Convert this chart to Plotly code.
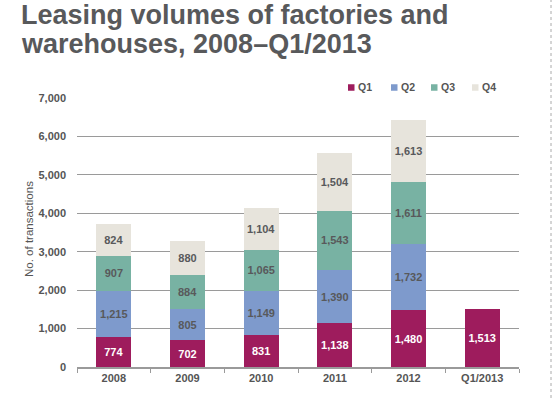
import plotly.graph_objects as go

# ---- data ----
categories = ["2008", "2009", "2010", "2011", "2012", "Q1/2013"]
q1 = [774, 702, 831, 1138, 1480, 1513]
q2 = [1215, 805, 1149, 1390, 1732, None]
q3 = [907, 884, 1065, 1543, 1611, None]
q4 = [824, 880, 1104, 1504, 1613, None]
series_names = ["Q1", "Q2", "Q3", "Q4"]
series_values = [q1, q2, q3, q4]
y_tick_vals = [0, 1000, 2000, 3000, 4000, 5000, 6000, 7000]
y_tick_text = ["0", "1,000", "2,000", "3,000", "4,000", "5,000", "6,000", "7,000"]
title_lines = ["Leasing volumes of factories and", "warehouses, 2008\u2013Q1/2013"]
y_title = "No. of transactions"

# ---- styles ----
colors = ["#9e1c5d", "#7e9acc", "#78b2a3", "#e7e4dc"]
text_colors = ["#ffffff", "#58595b", "#58595b", "#58595b"]
FONT = "Liberation Sans"
GREY = "#58595b"

W, H = 553, 398
PLOT_L, PLOT_R, PLOT_T, PLOT_B = 77, 519, 98, 367   # window pixel coords
L, T = PLOT_L, PLOT_T
R, B = W - PLOT_R, H - PLOT_B
PW, PH = W - L - R, H - T - B


def px_x(x):
    return (x - L) / PW


def px_y(y):
    return (H - B - y) / PH


fig = go.Figure()
for name, vals, col, tcol in zip(series_names, series_values, colors, text_colors):
    fig.add_trace(go.Bar(
        x=categories, y=vals, name=name,
        marker=dict(color=col, line=dict(width=0)),
        texttemplate="%{y:,}", textposition="inside",
        insidetextanchor="middle", textangle=0, constraintext="none",
        textfont=dict(family=FONT, size=11, color=tcol, weight="bold"),
        showlegend=False, hoverinfo="skip",
    ))

annotations = []
# title lines
annotations.append(dict(text=title_lines[0], xref="paper", yref="paper",
                        x=px_x(20), y=px_y(31.5), xanchor="left", yanchor="bottom",
                        showarrow=False, borderpad=0,
                        font=dict(family=FONT, size=27, color=GREY, weight="bold")))
annotations.append(dict(text=title_lines[1], xref="paper", yref="paper",
                        x=px_x(20), y=px_y(60.5), xanchor="left", yanchor="bottom",
                        showarrow=False, borderpad=0,
                        font=dict(family=FONT, size=27, color=GREY, weight="bold")))
# y title
annotations.append(dict(text=y_title, xref="paper", yref="paper",
                        x=px_x(29), y=px_y(229), xanchor="center", yanchor="middle",
                        textangle=-90, showarrow=False,
                        font=dict(family=FONT, size=11.5, color="#555555")))

# manual legend
shapes = []
leg_x = [348, 391, 431, 472]
leg_y = 87.5
for name, col, lx in zip(series_names, colors, leg_x):
    shapes.append(dict(type="rect", xref="paper", yref="paper",
                       x0=px_x(lx), x1=px_x(lx + 6.5),
                       y0=px_y(leg_y + 3.25), y1=px_y(leg_y - 3.25),
                       fillcolor=col, line=dict(width=0)))
    annotations.append(dict(text=name, xref="paper", yref="paper",
                            x=px_x(lx + 7.5), y=px_y(leg_y), xanchor="left",
                            yanchor="middle", showarrow=False,
                            font=dict(family=FONT, size=10.5, color="#555555",
                                      weight="bold")))

# dotted page border at right
shapes.append(dict(type="line", xref="paper", yref="paper",
                   x0=px_x(551), x1=px_x(551), y0=px_y(398), y1=px_y(0),
                   line=dict(color="#aaaaaa", width=1, dash="dot")))

fig.update_layout(
    width=W, height=H,
    margin=dict(l=L, r=R, t=T, b=B, pad=0),
    barmode="stack", bargap=0.525,
    plot_bgcolor="white", paper_bgcolor="white",
    font=dict(family=FONT, color="#555555"),
    annotations=annotations, shapes=shapes,
    xaxis=dict(type="category", showline=True, linecolor="#9a9a9a", linewidth=1.5,
               ticks="outside", tickson="boundaries", ticklen=4,
               tickcolor="#9a9a9a", tickwidth=1, showgrid=False,
               tickfont=dict(family=FONT, size=11, color="#555555", weight="bold")),
    yaxis=dict(range=[0, 7000], tickvals=y_tick_vals, ticktext=y_tick_text,
               showgrid=True, gridcolor="#9a9a9a", gridwidth=1, zeroline=False,
               showline=False, ticks="", ticklabelstandoff=10,
               tickfont=dict(family=FONT, size=11, color="#555555", weight="bold")),
)

# remove the browser's default page margin / scrollbars so the figure fills the window
fig.write_html(
    "out.html",
    config={"displayModeBar": False},
    post_script="document.body.style.margin='0';document.body.style.overflow='hidden';",
)
